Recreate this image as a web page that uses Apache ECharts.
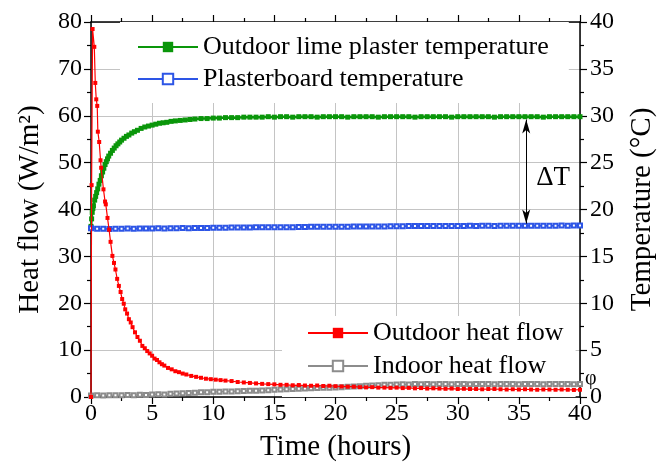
<!DOCTYPE html>
<html>
<head>
<meta charset="utf-8">
<script src="https://cdn.jsdelivr.net/npm/echarts@6.0.0/dist/echarts.min.js"></script>
<style>
  html, body { margin: 0; padding: 0; background: #fff; }
  #content { width: 665px; height: 467px; }
</style>
</head>
<body>
<div id="content"></div>
<script>
// outdoor heat flow (W/m2), left axis
var outdoorFlowT = [0, 0.05, 0.13, 0.27, 0.35, 0.43, 0.51, 0.56, 0.67, 0.78, 0.83, 1.02, 1.15, 1.21, 1.35, 1.48, 1.6, 1.75, 1.88, 2.0,
    2.14, 2.28, 2.42, 2.55, 2.68, 2.8, 2.95, 3.1, 3.25, 3.4, 3.6, 3.8, 4.0, 4.2, 4.4, 4.6, 4.8, 5.0, 5.2, 5.4,
    5.6, 5.8, 6.0, 6.3, 6.6, 6.9, 7.2, 7.5, 7.8, 8.2, 8.6, 9.0, 9.4, 9.8, 10.2, 10.6, 11.0, 11.5, 12.0, 12.5,
    13.0, 13.5, 14.0, 14.5, 15.0, 15.5, 16.0, 16.5, 17.0, 17.5, 18.0, 18.5, 19.0, 19.5, 20.0, 20.5, 21.0, 21.5, 22.0, 22.5,
    23.0, 23.5, 24.0, 24.5, 25.0, 25.5, 26.0, 26.5, 27.0, 27.5, 28.0, 28.5, 29.0, 29.5, 30.0, 30.5, 31.0, 31.5, 32.0, 32.5,
    33.0, 33.5, 34.0, 34.5, 35.0, 35.5, 36.0, 36.5, 37.0, 37.5, 38.0, 38.5, 39.0, 39.5, 40.0];
var outdoorFlowV = [0, 45.2, 78.5, 74.7, 67.0, 63.5, 62.1, 56.6, 54.4, 50.5, 48.9, 44.3, 41.7, 41.1, 38.2, 35.7, 33.1, 30.1, 28.6, 27.2,
    25.2, 23.7, 22.4, 20.9, 19.9, 18.7, 17.8, 16.6, 15.9, 14.9, 13.8, 12.8, 12.0, 10.9, 10.4, 9.8, 9.3, 8.8, 8.2, 7.9,
    7.4, 7.0, 6.7, 6.2, 5.9, 5.5, 5.3, 5.0, 4.8, 4.5, 4.3, 4.1, 3.9, 3.8, 3.7, 3.6, 3.5, 3.4, 3.2, 3.1,
    3.0, 2.9, 2.8, 2.75, 2.7, 2.6, 2.6, 2.5, 2.55, 2.45, 2.4, 2.45, 2.35, 2.4, 2.3, 2.25, 2.2, 2.2, 2.1, 2.05,
    2.1, 2.0, 2.0, 1.95, 2.0, 1.9, 1.95, 1.85, 1.9, 1.8, 1.85, 1.8, 1.75, 1.8, 1.7, 1.75, 1.7, 1.7, 1.65, 1.7,
    1.7, 1.65, 1.6, 1.65, 1.6, 1.65, 1.6, 1.55, 1.6, 1.6, 1.55, 1.6, 1.55, 1.5, 1.55];

// indoor heat flow (W/m2), left axis, every 0.5 h
var indoorFlowT = [];
for (var i = 0; i <= 80; i++) indoorFlowT.push(i * 0.5);
var indoorFlowV = [0.3, 0.35, 0.3, 0.4, 0.35, 0.4, 0.45, 0.4, 0.5, 0.45, 0.55, 0.6, 0.55, 0.7, 0.75, 0.8, 0.85, 0.9, 1.0, 1.0,
    1.1, 1.1, 1.2, 1.2, 1.25, 1.3, 1.35, 1.35, 1.4, 1.45, 1.55, 1.6, 1.65, 1.7, 1.75, 1.8, 1.85, 1.9, 1.95, 2.0,
    2.05, 2.1, 2.2, 2.25, 2.3, 2.4, 2.45, 2.5, 2.6, 2.6, 2.65, 2.7, 2.65, 2.75, 2.7, 2.75, 2.7, 2.8, 2.75, 2.7,
    2.75, 2.8, 2.7, 2.75, 2.8, 2.75, 2.7, 2.8, 2.75, 2.8, 2.7, 2.75, 2.8, 2.75, 2.7, 2.8, 2.75, 2.8, 2.75, 2.7, 2.75];

// outdoor lime plaster temperature (C), right axis
var limeT = [0, 0.05, 0.1, 0.15, 0.2, 0.3, 0.38, 0.46, 0.55, 0.65, 0.75, 0.85, 0.95, 1.05, 1.15, 1.25, 1.35, 1.45, 1.6, 1.75,
    1.9, 2.05, 2.2, 2.35, 2.5, 2.7, 2.9, 3.1, 3.33, 3.55, 3.8, 4.1, 4.4, 4.7, 5.0, 5.3, 5.6, 5.9, 6.2, 6.55,
    6.9, 7.3, 7.7, 8.1, 8.5, 9.0, 9.5, 10.0, 10.5, 11.0, 11.5, 12.0, 12.5, 13.0, 13.5, 14.0, 14.5, 15.0, 15.5, 16.0,
    16.5, 17.0, 17.5, 18.0, 18.5, 19.0, 19.5, 20.0, 20.5, 21.0, 21.5, 22.0, 22.5, 23.0, 23.5, 24.0, 24.5, 25.0, 25.5, 26.0,
    26.5, 27.0, 27.5, 28.0, 28.5, 29.0, 29.5, 30.0, 30.5, 31.0, 31.5, 32.0, 32.5, 33.0, 33.5, 34.0, 34.5, 35.0, 35.5, 36.0,
    36.5, 37.0, 37.5, 38.0, 38.5, 39.0, 39.5, 40.0];
var limeV = [18.2, 19.0, 19.7, 20.1, 20.4, 21.0, 21.4, 21.8, 22.2, 22.7, 23.1, 23.6, 24.0, 24.4, 24.8, 25.1, 25.4, 25.7, 26.0, 26.3,
    26.55, 26.8, 27.0, 27.2, 27.4, 27.6, 27.8, 27.95, 28.15, 28.3, 28.45, 28.65, 28.8, 28.9, 29.0, 29.1, 29.2, 29.25, 29.3, 29.4,
    29.45, 29.5, 29.55, 29.6, 29.65, 29.7, 29.7, 29.75, 29.75, 29.8, 29.8, 29.8, 29.85, 29.85, 29.85, 29.85, 29.9, 29.85, 29.9, 29.9,
    29.85, 29.9, 29.9, 29.9, 29.85, 29.9, 29.9, 29.9, 29.9, 29.85, 29.9, 29.9, 29.9, 29.9, 29.85, 29.9, 29.9, 29.9, 29.9, 29.9,
    29.85, 29.9, 29.9, 29.9, 29.9, 29.9, 29.85, 29.9, 29.9, 29.9, 29.9, 29.9, 29.9, 29.85, 29.9, 29.9, 29.9, 29.9, 29.9, 29.9,
    29.9, 29.85, 29.9, 29.9, 29.9, 29.9, 29.9, 29.9];

// plasterboard temperature (C), right axis, every 0.5 h
var boardT = indoorFlowT;
var boardV = [18.0, 17.95, 17.95, 17.93, 17.95, 17.95, 17.97, 17.95, 17.97, 17.97, 17.98, 18.0, 17.98, 18.0, 18.0, 18.02, 18.0, 18.02, 18.03, 18.03,
    18.05, 18.05, 18.05, 18.07, 18.07, 18.08, 18.08, 18.1, 18.1, 18.1, 18.1, 18.12, 18.12, 18.12, 18.13, 18.13, 18.15, 18.15, 18.15, 18.15,
    18.15, 18.17, 18.17, 18.18, 18.18, 18.2, 18.2, 18.2, 18.2, 18.22, 18.22, 18.22, 18.23, 18.23, 18.23, 18.25, 18.25, 18.25, 18.25, 18.25,
    18.25, 18.25, 18.27, 18.25, 18.27, 18.27, 18.25, 18.27, 18.27, 18.28, 18.27, 18.28, 18.28, 18.27, 18.28, 18.28, 18.28, 18.3, 18.28, 18.3, 18.3];

var xTicks = [0, 40, 5];
var heatTicks = [0, 80, 10];
var tempTicks = [0, 40, 5];

function zip(t, v) {
    var out = [];
    for (var k = 0; k < v.length; k++) out.push([t[k], v[k]]);
    return out;
}

var font = '"Liberation Serif", "Times New Roman", "DejaVu Serif", serif';
var axisCommon = {
    axisLine: {show: true, onZero: false, lineStyle: {color: '#000', width: 1.5}},
    axisTick: {show: true, inside: false, length: 7, lineStyle: {color: '#000', width: 1.2}},
    minorTick: {show: true, splitNumber: 2, length: 4, lineStyle: {color: '#000', width: 1.2}},
    axisLabel: {color: '#000', fontFamily: font, fontSize: 24},
    nameTextStyle: {color: '#000', fontFamily: font, fontSize: 29}
};

var myChart = echarts.init(document.getElementById('content'));
myChart.setOption({
    animation: false,
    backgroundColor: '#fff',
    textStyle: {fontFamily: font},
    grid: {left: 91, right: 79, top: 22, bottom: 69},
    legend: [
        {
            data: ['Outdoor lime plaster temperature', 'Plasterboard temperature'],
            orient: 'vertical',
            left: 120, top: 22,
            padding: [12, 20, 11, 17],
            itemGap: 6,
            itemWidth: 60, itemHeight: 13,
            backgroundColor: '#fff',
            z: 1,
            lineStyle: {width: 2},
            textStyle: {fontFamily: font, fontSize: 26, color: '#000'}
        },
        {
            data: ['Outdoor heat flow', 'Indoor heat flow'],
            orient: 'vertical',
            left: 282, top: 316,
            padding: [4, 12, 18, 25],
            itemGap: 7,
            itemWidth: 60, itemHeight: 13,
            backgroundColor: '#fff',
            z: 1,
            lineStyle: {width: 2},
            textStyle: {fontFamily: font, fontSize: 26, color: '#000'}
        }
    ],
    xAxis: [
        Object.assign({}, axisCommon, {
            type: 'value', min: xTicks[0], max: xTicks[1], interval: xTicks[2],
            name: 'Time (hours)', nameLocation: 'middle', nameGap: 36,
            axisLabel: Object.assign({}, axisCommon.axisLabel, {margin: 5}),
            splitLine: {show: true, lineStyle: {color: '#c4c4c4', width: 1}}
        }),
        Object.assign({}, axisCommon, {
            type: 'value', position: 'top', min: xTicks[0], max: xTicks[1], interval: xTicks[2],
            axisLabel: {show: false},
            splitLine: {show: false}
        })
    ],
    yAxis: [
        Object.assign({}, axisCommon, {
            type: 'value', min: heatTicks[0], max: heatTicks[1], interval: heatTicks[2],
            name: 'Heat flow (W/m²)', nameLocation: 'middle', nameGap: 46,
            axisLabel: Object.assign({}, axisCommon.axisLabel, {margin: 9}),
            splitLine: {show: true, lineStyle: {color: '#c4c4c4', width: 1}}
        }),
        Object.assign({}, axisCommon, {
            type: 'value', position: 'right', min: tempTicks[0], max: tempTicks[1], interval: tempTicks[2],
            name: 'Temperature (°C)', nameLocation: 'middle', nameGap: 48, nameRotate: 90,
            axisLabel: Object.assign({}, axisCommon.axisLabel, {margin: 10}),
            splitLine: {show: false}
        })
    ],
    series: [
        {
            name: 'Outdoor lime plaster temperature',
            type: 'line', xAxisIndex: 0, yAxisIndex: 1,
            data: zip(limeT, limeV),
            symbol: 'rect', symbolSize: 5,
            color: '#0a960a',
            lineStyle: {width: 2.5, color: '#0a960a'},
            itemStyle: {color: '#0a960a'},
            z: 3,
            markLine: {
                silent: true,
                symbol: ['arrow', 'arrow'],
                symbolSize: [6, 14],
                label: {show: false},
                lineStyle: {color: '#000', width: 1, type: 'solid'},
                data: [[{coord: [35.6, 29.6]}, {coord: [35.6, 18.5]}]]
            }
        },
        {
            name: 'Plasterboard temperature',
            type: 'line', xAxisIndex: 0, yAxisIndex: 1,
            data: zip(boardT, boardV),
            symbol: 'emptyRect', symbolSize: 4,
            color: '#2d55e6',
            lineStyle: {width: 1.5, color: '#2d55e6'},
            itemStyle: {color: '#2d55e6', borderWidth: 1},
            z: 3
        },
        {
            name: 'Outdoor heat flow',
            type: 'line', xAxisIndex: 0, yAxisIndex: 0,
            data: zip(outdoorFlowT, outdoorFlowV),
            symbol: 'rect', symbolSize: 4,
            color: '#ff0000',
            lineStyle: {width: 1.2, color: '#ff0000'},
            itemStyle: {color: '#ff0000'},
            z: 4
        },
        {
            name: 'Indoor heat flow',
            type: 'line', xAxisIndex: 0, yAxisIndex: 0,
            data: zip(indoorFlowT, indoorFlowV),
            symbol: 'emptyRect', symbolSize: 4,
            color: '#8c8c8c',
            lineStyle: {width: 1, color: '#8c8c8c'},
            itemStyle: {color: '#8c8c8c', borderWidth: 1},
            z: 3
        }
    ]
});

// annotations placed through the axes' scales
var dtPos = myChart.convertToPixel({xAxisIndex: 0, yAxisIndex: 1}, [37.8, 23.4]);
var phiPos = myChart.convertToPixel({xAxisIndex: 0, yAxisIndex: 0}, [40, 3.8]);
myChart.setOption({
    graphic: [
        {type: 'text', x: dtPos[0], y: dtPos[1], z: 10,
            style: {text: 'ΔT', font: '27px "Liberation Serif", serif', fill: '#000', align: 'center', verticalAlign: 'middle'}},
        {type: 'text', x: phiPos[0] + 5, y: phiPos[1], z: 10,
            style: {text: 'φ', font: '20px "Liberation Serif", serif', fill: '#000', align: 'left', verticalAlign: 'middle'}}
    ]
});
</script>
</body>
</html>
